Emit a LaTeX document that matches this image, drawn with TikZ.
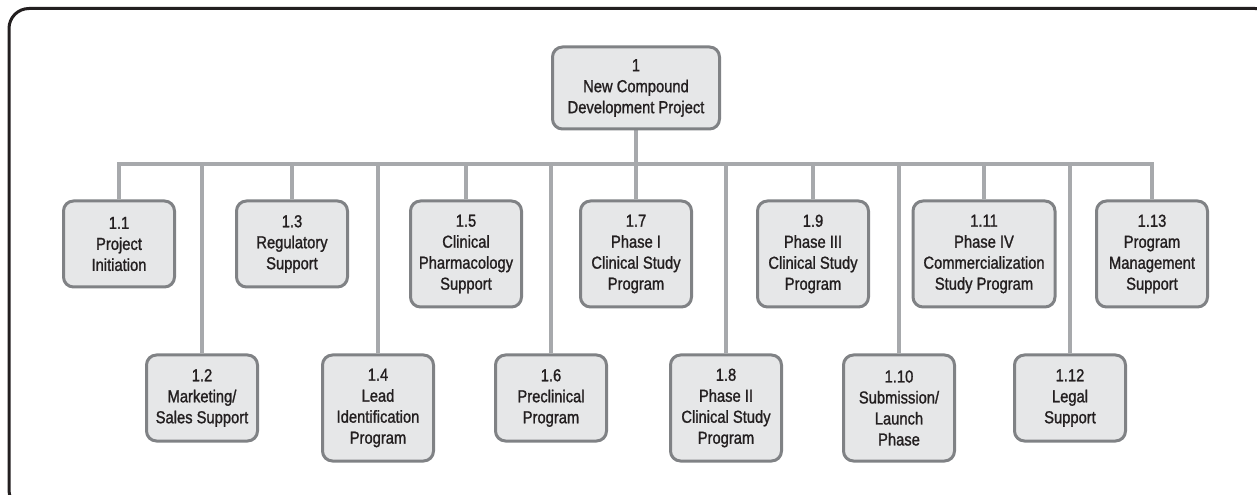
\documentclass[tikz,border=0pt]{standalone}
\usepackage{fontspec}
\newfontfamily\wbsfont{Liberation Sans}[FakeStretch=0.85,FakeBold=1.2]
\usepackage{tikz}
\usetikzlibrary{positioning,backgrounds}
\definecolor{boxfill}{HTML}{E6E7E8}
\definecolor{boxline}{HTML}{808285}
\definecolor{linkgray}{HTML}{A7A9AC}
\definecolor{ink}{HTML}{231F20}
\tikzset{
  wbs/.style={rectangle,rounded corners=7.5pt,fill=boxfill,draw=boxline,
    line width=2.25pt,minimum width=83.25pt,minimum height=64.5pt,
    align=center,inner sep=2pt,anchor=north,text=ink,
    font=\wbsfont\fontsize{13}{15.75}\selectfont},
  tall/.style={minimum height=79.5pt},
  wide/.style={minimum width=106.5pt},
  link/.style={draw=linkgray,line width=2.5pt},
  frame/.style={draw=ink,line width=2.25pt,rounded corners=15pt}
}

\begin{document}
\begin{tikzpicture}[x=0.75pt,y=-0.75pt]
  \useasboundingbox (0,0) rectangle (1257,495);
  \draw[frame] (9,8.5) rectangle (1275,510);
  % root of the breakdown
  \node[wbs,minimum width=125.25pt,minimum height=61.5pt] (root) at (636,45.5)
    {1\\New Compound\\Development Project};
  % first level, upper row
  \node[wbs] (n11) at (119,199.5) {1.1\\Project\\Initiation};
  \node[wbs] (n13) at (292,199.5) {1.3\\Regulatory\\Support};
  \node[wbs,tall] (n15) at (466,199.5) {1.5\\Clinical\\Pharmacology\\Support};
  \node[wbs,tall] (n17) at (636,199.5) {1.7\\Phase I\\Clinical Study\\Program};
  \node[wbs,tall] (n19) at (813,199.5) {1.9\\Phase III\\Clinical Study\\Program};
  \node[wbs,tall,wide] (n111) at (984,199.5) {1.11\\Phase IV\\Commercialization\\Study Program};
  \node[wbs,tall] (n113) at (1152,199.5) {1.13\\Program\\Management\\Support};
  % first level, lower row
  \node[wbs] (n12) at (202,353.5) {1.2\\Marketing/\\Sales Support};
  \node[wbs,tall] (n14) at (378,353.5) {1.4\\Lead\\Identification\\Program};
  \node[wbs] (n16) at (551,353.5) {1.6\\Preclinical\\Program};
  \node[wbs,tall] (n18) at (726,353.5) {1.8\\Phase II\\Clinical Study\\Program};
  \node[wbs,tall] (n110) at (899,353.5) {1.10\\Submission/\\Launch\\Phase};
  \node[wbs] (n112) at (1070,353.5) {1.12\\Legal\\Support};
  \coordinate (bus) at (636,164);
  \begin{scope}[on background layer]
    \draw[link] (root.south) -- (bus);
    \draw[link] (n11.north) |- (bus) -| (n113.north);
    \draw[link] (n12.north) -- (n12.north |- bus);
    \draw[link] (n13.north) -- (n13.north |- bus);
    \draw[link] (n14.north) -- (n14.north |- bus);
    \draw[link] (n15.north) -- (n15.north |- bus);
    \draw[link] (n16.north) -- (n16.north |- bus);
    \draw[link] (n17.north) -- (bus);
    \draw[link] (n18.north) -- (n18.north |- bus);
    \draw[link] (n19.north) -- (n19.north |- bus);
    \draw[link] (n110.north) -- (n110.north |- bus);
    \draw[link] (n111.north) -- (n111.north |- bus);
    \draw[link] (n112.north) -- (n112.north |- bus);
  \end{scope}
\end{tikzpicture}
\end{document}
